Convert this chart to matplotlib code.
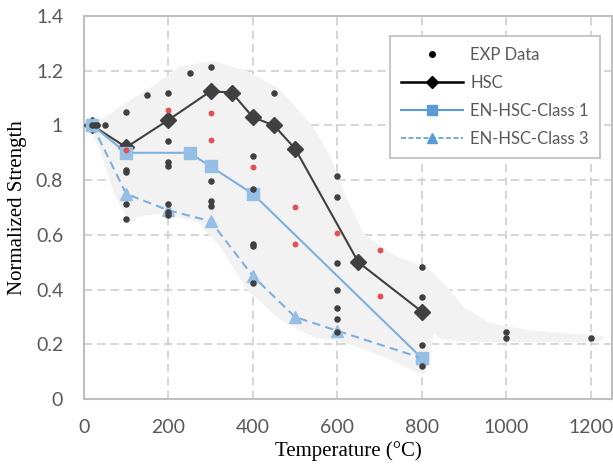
import matplotlib
matplotlib.use("Agg")
import matplotlib.pyplot as plt
from matplotlib.patches import Polygon

# ── Data ──────────────────────────────────────────────────────────
hsc_t = [20, 100, 200, 300, 350, 400, 450, 500, 650, 800]
hsc_s = [1.0, 0.92, 1.02, 1.125, 1.12, 1.03, 1.0, 0.915, 0.5, 0.32]

cls1_t = [20, 100, 250, 300, 400, 800]
cls1_s = [1.0, 0.9, 0.9, 0.85, 0.75, 0.15]

cls3_t = [20, 100, 200, 300, 400, 500, 600, 800]
cls3_s = [1.0, 0.75, 0.69, 0.65, 0.45, 0.30, 0.25, 0.15]

# experimental points (dark)
exp_t = [20, 25, 30, 50, 100, 100, 100, 100, 100, 150,
         200, 200, 200, 200, 200, 200, 200, 250, 300, 300, 300, 300,
         400, 400, 400, 400, 400, 450, 600, 600, 600, 600, 600, 600, 600,
         800, 800, 800, 800, 1000, 1000, 1200]
exp_s = [1.0, 1.0, 1.0, 1.0, 1.05, 0.837, 0.83, 0.713, 0.66, 1.11,
         1.12, 0.943, 0.867, 0.85, 0.713, 0.685, 0.673, 1.19, 1.215, 0.798, 0.724, 0.706,
         0.888, 0.768, 0.567, 0.56, 0.424, 1.12, 0.815, 0.74, 0.497, 0.398, 0.333, 0.292, 0.245,
         0.483, 0.373, 0.197, 0.12, 0.245, 0.223, 0.223]

# experimental points (red)
red_t = [100, 200, 300, 300, 400, 500, 500, 600, 700, 700]
red_s = [0.91, 1.057, 1.045, 0.947, 0.849, 0.703, 0.567, 0.607, 0.545, 0.377]

# grey scatter envelope outline
band_t = [10, 50, 93, 150, 228, 306, 386, 465, 543, 584, 620, 662, 700, 742,
          813, 860, 900, 963, 1058, 1150, 1215, 1235, 1220, 1200, 1058, 900,
          845, 828, 820, 808, 790, 760, 700, 650, 607, 543, 465, 386, 323,
          268, 187, 125, 109, 95, 69, 38]
band_s = [1.0, 1.03, 1.075, 1.13, 1.215, 1.235, 1.2, 1.13, 0.995, 0.885, 0.74,
          0.607, 0.56, 0.52, 0.48, 0.41, 0.336, 0.277, 0.252, 0.24, 0.235, 0.225,
          0.21, 0.208, 0.208, 0.21, 0.22, 0.24, 0.15, 0.09, 0.095, 0.12, 0.16,
          0.19, 0.21, 0.227, 0.29, 0.4, 0.556, 0.647, 0.68, 0.666, 0.636, 0.68,
          0.76, 0.91]

xticks = [0, 200, 400, 600, 800, 1000, 1200]
yticks = [0, 0.2, 0.4, 0.6, 0.8, 1.0, 1.2, 1.4]
ytick_labels = ["0", "0.2", "0.4", "0.6", "0.8", "1", "1.2", "1.4"]

# ── Plot ──────────────────────────────────────────────────────────
dark = "#404040"
blue_line = "#7eb0de"
blue_mark = "#96bfe6"
grid_c = "#d0d0d0"
text_c = "#595959"

fig = plt.figure(figsize=(6.13, 4.68), dpi=100)
ax = fig.add_axes([0.137, 0.147, 0.861, 0.819])

ax.add_patch(Polygon(list(zip(band_t, band_s)), closed=True,
                     facecolor="#f2f2f2", edgecolor="none", zorder=1))

ax.plot(hsc_t, hsc_s, color=dark, lw=1.5, marker="D", ms=8,
        mfc=dark, mec=dark, zorder=3, label="HSC")
ax.plot(cls1_t, cls1_s, color=blue_line, lw=1.5, marker="s", ms=8.5,
        mfc=blue_mark, mec=blue_mark, zorder=3, label="EN-HSC-Class 1")
ax.plot(cls3_t, cls3_s, color=blue_line, lw=1.5, ls=(0, (4, 2.5)), marker="^",
        ms=9, mfc=blue_mark, mec=blue_mark, zorder=3, label="EN-HSC-Class 3")
ax.scatter(exp_t, exp_s, s=22, color=dark, zorder=4, linewidths=0)
ax.scatter(red_t, red_s, s=18, color="#e05252", zorder=4, linewidths=0)

ax.set_xlim(0, 1250)
ax.set_ylim(0, 1.4)
ax.set_xticks(xticks)
ax.set_yticks(yticks)
ax.set_yticklabels(ytick_labels)
ax.grid(True, color=grid_c, ls=(0, (5, 3)), lw=1.2, zorder=0)
ax.set_axisbelow(True)
ax.tick_params(length=0, labelsize=14, labelcolor=text_c)
ax.tick_params(axis="x", pad=14)
ax.tick_params(axis="y", pad=15)
for lab in ax.get_xticklabels() + ax.get_yticklabels():
    lab.set_family("Lato")
for sp in ax.spines.values():
    sp.set_color("#bfbfbf")
    sp.set_linewidth(1.5)

ax.set_xlabel("Temperature (°C)", family="Liberation Serif", fontsize=15,
              labelpad=4)
ax.set_ylabel("Normalized Strength", family="Liberation Serif", fontsize=15,
              labelpad=6)

# legend handles
h_exp = plt.Line2D([], [], ls="none", marker="o", ms=4, color="black")
h_hsc = plt.Line2D([], [], color="black", lw=1.8, marker="D", ms=6)
h_c1 = plt.Line2D([], [], color="#5b9bd5", lw=1.5, marker="s", ms=7)
h_c3 = plt.Line2D([], [], color="#5b9bd5", lw=1.2, ls=(0, (3, 1.5)),
                  marker="^", ms=7)
leg = ax.legend([h_exp, h_hsc, h_c1, h_c3],
                ["EXP Data", "HSC", "EN-HSC-Class 1", "EN-HSC-Class 3"],
                loc="upper right", bbox_to_anchor=(0.977, 0.948),
                borderaxespad=0, fancybox=False, framealpha=1,
                edgecolor="#c8c8c8", handlelength=3.7, handletextpad=0.45,
                labelspacing=0.72, borderpad=0.65,
                prop={"family": "Lato", "size": 12})
leg.get_frame().set_linewidth(1.5)
for t in leg.get_texts():
    t.set_color(text_c)

fig.savefig("out.png", dpi=100)
